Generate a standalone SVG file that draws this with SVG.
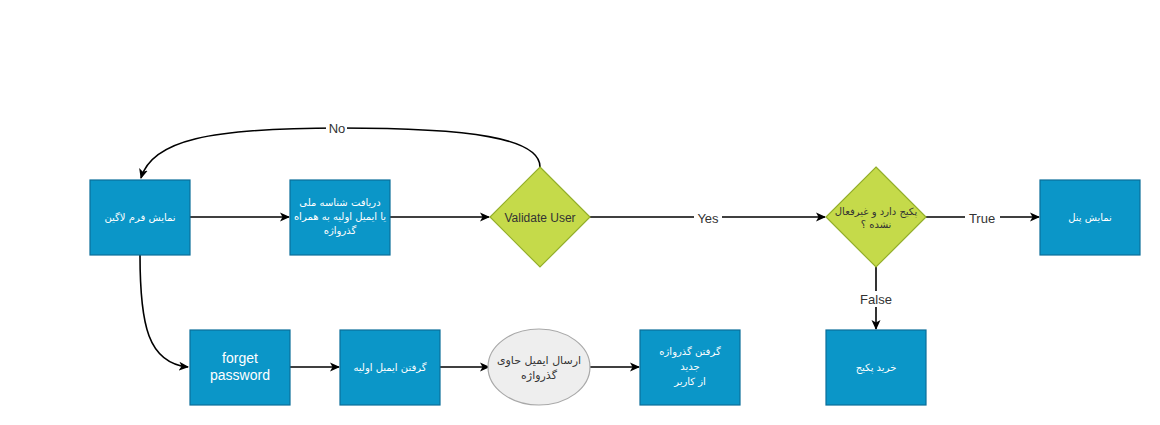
<svg xmlns="http://www.w3.org/2000/svg" width="1160" height="425" viewBox="0 0 1160 425">
<defs>
<marker id="arr" viewBox="0 0 10 10" refX="9" refY="5" markerWidth="10" markerHeight="10" markerUnits="userSpaceOnUse" orient="auto">
<path d="M0,0.5 L10,5 L0,9.5 L2.5,5 Z" fill="#000"/>
</marker>
<style>
.box{fill:#0B96C8;stroke:#0A6E9A;stroke-width:1.2}
.dia{fill:#C5DA4A;stroke:#93AE2A;stroke-width:1.2}
.ell{fill:#EEEEEE;stroke:#A8A8A8;stroke-width:1.2}
.fa{font-family:"DejaVu Sans",sans-serif;font-size:10px;fill:#fff;text-anchor:middle}
.fad{font-family:"DejaVu Sans",sans-serif;font-size:10px;fill:#333;text-anchor:middle}
.en{font-family:"Liberation Sans",Arial,sans-serif;font-size:14px;fill:#fff;text-anchor:middle}
.lbl{font-family:"Liberation Sans",Arial,sans-serif;font-size:13px;fill:#333;text-anchor:middle}
.line{fill:none;stroke:#000;stroke-width:1.6;marker-end:url(#arr)}
.lb{fill:#fff}
</style>
</defs>
<rect width="1160" height="425" fill="#fff"/>
<g id="connectors">
<path class="line" d="M190,217 L289,217"/>
<path class="line" d="M390,217 L489,217"/>
<path class="line" d="M590,217 L825,217"/>
<path class="line" d="M926,217 L1039,217"/>
<path class="line" d="M876,267 L876,329"/>
<path class="line" d="M290,367 L339,367"/>
<path class="line" d="M440,367 L489,367"/>
<path class="line" d="M590,367 L639,367"/>
<path class="line" d="M540,167 C540,138 470,128 340,128 C210,128 152,140 141,178"/>
<path class="line" d="M140,255 C140,325 148,363 188,367"/>
<rect class="lb" x="326" y="120" width="21" height="16"/>
<text class="lbl" x="337" y="133">No</text>
<rect class="lb" x="694" y="210" width="28" height="16"/>
<text class="lbl" x="708" y="223">Yes</text>
<rect class="lb" x="965" y="210" width="35" height="16"/>
<text class="lbl" x="982" y="223">True</text>
<rect class="lb" x="857" y="291" width="38" height="16"/>
<text class="lbl" x="876" y="304">False</text>
</g>
<g id="n_login"><rect class="box" x="90" y="180" width="100" height="75"/><text class="fa" x="140" y="221">نمایش فرم لاگین</text></g>
<g id="n_receive"><rect class="box" x="290" y="180" width="100" height="75"/>
<text class="fa" x="340" y="206">دریافت شناسه ملی</text>
<text class="fa" x="340" y="220">یا ایمیل اولیه به همراه</text>
<text class="fa" x="340" y="234">گذرواژه</text></g>
<g id="n_validate"><polygon class="dia" points="540,167 590,217 540,267 490,217"/><text class="lbl" x="540" y="222" style="font-size:12px">Validate User</text></g>
<g id="n_package"><polygon class="dia" points="876,167 926,217 876,267 826,217"/>
<text class="fad" x="876" y="215">پکیج دارد و غیرفعال</text>
<text class="fad" x="876" y="228">نشده ؟</text></g>
<g id="n_panel"><rect class="box" x="1040" y="180" width="100" height="75"/><text class="fa" x="1090" y="221">نمایش پنل</text></g>
<g id="n_buy"><rect class="box" x="826" y="330" width="100" height="75"/><text class="fa" x="876" y="371">خرید پکیج</text></g>
<g id="n_forget"><rect class="box" x="190" y="330" width="100" height="75"/>
<text class="en" x="240" y="363">forget</text>
<text class="en" x="240" y="380">password</text></g>
<g id="n_email"><rect class="box" x="340" y="330" width="100" height="75"/><text class="fa" x="390" y="371">گرفتن ایمیل اولیه</text></g>
<g id="n_send"><ellipse class="ell" cx="539" cy="367" rx="51" ry="38"/>
<text class="fad" x="539" y="364" style="font-size:11px">ارسال ایمیل حاوی</text>
<text class="fad" x="539" y="379" style="font-size:11px">گذرواژه</text></g>
<g id="n_newpass"><rect class="box" x="640" y="330" width="100" height="75"/>
<text class="fa" x="690" y="355">گرفتن گذرواژه</text>
<text class="fa" x="690" y="370">جدید</text>
<text class="fa" x="690" y="385">از کاربر</text></g>
</svg>
